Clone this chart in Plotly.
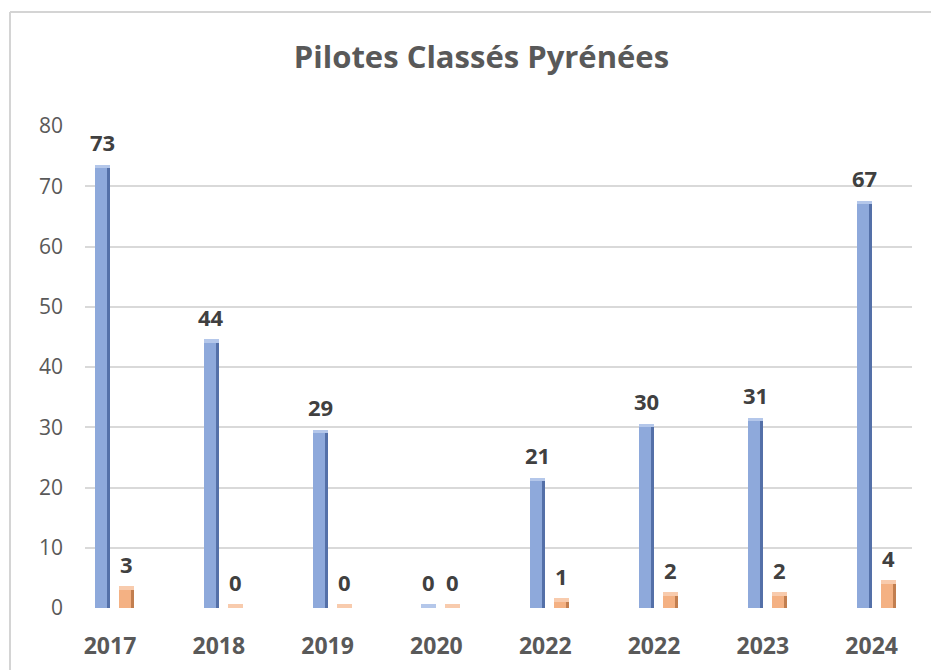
import plotly.graph_objects as go

# ---- data ----
years = ["2017", "2018", "2019", "2020", "2022", "2022", "2023", "2024"]
pilotes = [73, 44, 29, 0, 21, 30, 31, 67]
classes = [3, 0, 0, 0, 1, 2, 2, 4]

title = "Pilotes Classés Pyrénées"

# ---- style ----
BLUE_FRONT, BLUE_SIDE, BLUE_TOP = "#8EA9DB", "#5470A8", "#B4C7EA"
ORANGE_FRONT, ORANGE_SIDE, ORANGE_TOP = "#F4B183", "#C27E4F", "#F8CBAD"
TXT = "#595959"
LBL = "#404040"
FONT = "Open Sans"

PX = 1 / 108.8  # one pixel in category units
idx = list(range(len(years)))

fig = go.Figure()

def add_series(vals, front_off, front_c, side_c, top_c, name):
    front_x = [i + (front_off + 6) * PX for i in idx]
    side_x = [i + (front_off + 13.5) * PX for i in idx]
    top_x = [i + (front_off + 7.5) * PX for i in idx]
    fig.add_bar(x=front_x, y=vals, width=12 * PX, marker_color=front_c,
                marker_line_width=0, name=name, showlegend=False)
    fig.add_bar(x=side_x, y=vals, width=3 * PX, marker_color=side_c,
                marker_line_width=0, showlegend=False, hoverinfo="skip")
    fig.add_bar(x=top_x, y=[0.6] * len(vals), base=vals, width=15 * PX,
                marker_color=top_c, marker_line_width=0, showlegend=False,
                hoverinfo="skip")
    for i, v in zip(idx, vals):
        fig.add_annotation(x=i + (front_off + 7.5) * PX, y=v, text=f"<b>{v}</b>",
                           showarrow=False, yanchor="bottom", yshift=9,
                           font=dict(family=FONT, size=22, color=LBL))

add_series(pilotes, -15, BLUE_FRONT, BLUE_SIDE, BLUE_TOP, "Pilotes")
add_series(classes, 9, ORANGE_FRONT, ORANGE_SIDE, ORANGE_TOP, "Classés")

# frame decoration (paper coords, plot area spans screen px 85..912 x 126..608)
def px_x(p):
    return (p - 85) / 827
def px_y(p):
    return (608 - p) / 482

fig.add_shape(type="line", xref="paper", yref="paper",
              x0=px_x(10), x1=px_x(10), y0=px_y(700), y1=px_y(12),
              line=dict(color="#D4D4D4", width=2))
fig.add_shape(type="line", xref="paper", yref="paper",
              x0=px_x(10), x1=px_x(1000), y0=px_y(12), y1=px_y(12),
              line=dict(color="#D4D4D4", width=2))

fig.update_layout(
    width=939, height=670,
    margin=dict(l=77, r=35, t=118, b=70),
    paper_bgcolor="white", plot_bgcolor="white",
    barmode="overlay", bargap=0,
    title=dict(text=f"<b>{title}</b>", x=0.4794, xref="paper", xanchor="center",
               y=0.927, yref="container", yanchor="middle",
               font=dict(family=FONT, size=31, color=TXT)),
    font=dict(family=FONT, color=TXT),
)
fig.update_xaxes(range=[-0.2298, 7.371], tickmode="array", tickvals=idx,
                 ticktext=[f"<b>{y}</b>" for y in years],
                 tickfont=dict(family=FONT, size=23, color=TXT),
                 showgrid=False, zeroline=False, showline=False, ticks="",
                 ticklabelstandoff=22)
fig.update_yaxes(range=[0, 80], dtick=10, showgrid=True, gridcolor="#D9D9D9",
                 gridwidth=1.5, zeroline=False, showline=False, ticks="",
                 tickfont=dict(family=FONT, size=21, color=TXT),
                 ticklabelstandoff=21)

fig.write_html("out.html")
